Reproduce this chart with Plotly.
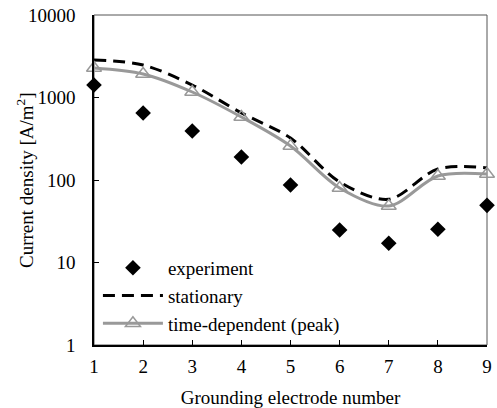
import plotly.graph_objects as go

electrode = [1, 2, 3, 4, 5, 6, 7, 8, 9]
experiment = [1420, 650, 393, 190, 87, 24.8, 17.1, 25.3, 49.3]
stationary = [2850, 2475, 1415, 650, 323, 94.6, 58.4, 136, 140]
time_dependent = [2280, 1930, 1166, 580, 258, 80, 48.4, 112, 118]
y_ticks = [1, 10, 100, 1000, 10000]
y_tick_labels = ["1", "10", "100", "1000", "10000"]

FONT = "Liberation Serif, Times New Roman, serif"
GRAY = "#999999"
FS = 19

fig = go.Figure()
fig.add_trace(go.Scatter(
    x=electrode, y=experiment, mode="markers", name="experiment",
    marker=dict(symbol="diamond", size=12, color="black"), cliponaxis=False))
fig.add_trace(go.Scatter(
    x=electrode, y=stationary, mode="lines", name="stationary",
    line=dict(color="black", width=3, dash="12px,7px", shape="spline", smoothing=0.9),
    cliponaxis=False))
fig.add_trace(go.Scatter(
    x=electrode, y=time_dependent, mode="lines+markers", name="time-dependent (peak)",
    line=dict(color=GRAY, width=3, shape="spline", smoothing=0.9),
    marker=dict(symbol="triangle-up-open", size=13, color=GRAY, line=dict(width=1.5)),
    cliponaxis=False))

fig.add_shape(type="rect", xref="paper", yref="paper", x0=0, y0=0, x1=1, y1=1,
              line=dict(color="#555555", width=1), layer="below")

fig.add_annotation(text="Current density [A/m<sup>2</sup>]", textangle=-90,
                   xref="paper", yref="paper", x=-0.1756, y=0.5,
                   xanchor="center", yanchor="middle", showarrow=False,
                   font=dict(size=FS, family=FONT, color="black"))

fig.update_layout(
    width=497, height=408,
    margin=dict(l=94, r=10, t=15, b=63, autoexpand=False),
    paper_bgcolor="white", plot_bgcolor="white",
    font=dict(family=FONT, size=FS, color="black"),
    showlegend=True,
    legend=dict(x=0.01, y=0.291, xanchor="left", yanchor="top",
                bgcolor="rgba(0,0,0,0)", font=dict(size=FS, family=FONT),
                itemwidth=60, tracegroupgap=0),
    xaxis=dict(range=[1, 9], tickvals=electrode, ticks="inside", ticklen=5,
               tickcolor="black", showline=True, linecolor="black", linewidth=1.5,
               showgrid=False, zeroline=False, ticklabelstandoff=3, automargin=False,
               ticklabeloverflow="allow",
               title=dict(text="Grounding electrode number", standoff=15,
                          font=dict(size=FS, family=FONT))),
    yaxis=dict(type="log", range=[0, 4], tickvals=y_ticks, ticktext=y_tick_labels,
               ticks="inside", ticklen=5, tickcolor="black",
               showline=True, linecolor="black", linewidth=1.5, automargin=False,
               ticklabeloverflow="allow",
               showgrid=False, zeroline=False, ticklabelstandoff=13),
)

fig.write_html("out.html", config={"displayModeBar": False},
               post_script="document.body.style.margin='0';document.body.style.overflow='hidden';")
